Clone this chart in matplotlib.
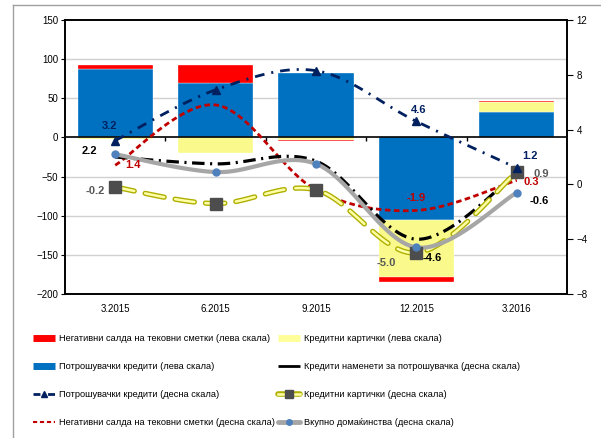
import matplotlib
matplotlib.use('Agg')

import numpy as np
import matplotlib.pyplot as plt
from matplotlib.lines import Line2D

plt.rcParams.update({'font.family': ['Liberation Sans', 'DejaVu Sans'], 'font.size': 7,
                     'lines.scale_dashes': False})

# Categories
quarters = ['3.2015', '6.2015', '9.2015', '12.2015', '3.2016']

# Bars, left scale
bar_consumer = [87, 69, 82, -106, 33]
bar_cards = [-2, -20, -3, -72, 12]
bar_overdraft = [6, 24, -2, -7, 2]

# Lines, right scale
ln_consumer = [3.2, 6.9, 8.3, 4.6, 1.2]
ln_purpose = [2.0, 1.5, 1.7, -4.0, 0.8]
ln_cards = [-0.2, -1.4, -0.4, -5.0, 0.9]
ln_overdraft = [1.4, 5.8, -0.4, -1.9, 0.3]
ln_total = [2.2, 0.9, 1.5, -4.6, -0.6]

BLUE = '#0070C0'
RED = '#FF0000'
YELLOW = '#FAFA8C'
NAVY = '#002060'
DRED = '#C00000'
OLIVE = '#AFAF00'
PALE = '#FFFFA8'
GREY = '#A6A6A6'


def smooth(x, y, n=30):
    # Catmull-Rom style smoothing similar to Excel's smoothed lines
    x = np.asarray(x, float)
    y = np.asarray(y, float)
    px = np.concatenate([[x[0]], x, [x[-1]]])
    py = np.concatenate([[y[0]], y, [y[-1]]])
    xs, ys = [], []
    t = np.linspace(0, 1, n)
    for i in range(1, len(px) - 2):
        p0 = np.array([px[i], py[i]])
        p3 = np.array([px[i + 1], py[i + 1]])
        c1 = p0 + (p3 - np.array([px[i - 1], py[i - 1]])) / 6.0
        c2 = p3 - (np.array([px[i + 2], py[i + 2]]) - p0) / 6.0
        b = ((1 - t) ** 3)[:, None] * p0 + (3 * (1 - t) ** 2 * t)[:, None] * c1 \
            + (3 * (1 - t) * t ** 2)[:, None] * c2 + (t ** 3)[:, None] * p3
        xs.extend(b[:, 0])
        ys.extend(b[:, 1])
    return np.array(xs), np.array(ys)


fig = plt.figure(figsize=(6.01, 4.38), dpi=100)
ax = fig.add_axes([65 / 601, 1 - 294 / 438, 502 / 601, 274 / 438])
ax2 = ax.twinx()

x = np.arange(len(quarters))

# Stacked bars (positive and negative stacks separately)
pos = np.zeros(len(x))
neg = np.zeros(len(x))
for vals, col in [(bar_consumer, BLUE), (bar_cards, YELLOW), (bar_overdraft, RED)]:
    vals = np.array(vals, float)
    bottoms = np.where(vals >= 0, pos, neg)
    ax.bar(x, vals, 0.75, bottom=bottoms, color=col, edgecolor='white', linewidth=0.25, zorder=2)
    pos += np.where(vals >= 0, vals, 0)
    neg += np.where(vals < 0, vals, 0)

ax.set_xlim(-0.5, len(x) - 0.5)
ax.set_ylim(-200, 150)
ax.set_yticks(range(-200, 151, 50))
for g in range(-150, 150, 50):
    if g != 0:
        ax.axhline(g, color='#D0D0D0', lw=1, zorder=0)
ax.axhline(0, color='black', lw=1.2, zorder=3)
ax.vlines(np.arange(0.5, len(x) - 1), -4, 0, color='black', lw=1, zorder=3)
ax.set_xticks(x)
ax.set_xticklabels(quarters)
ax.tick_params(axis='x', length=0, pad=7)
ax.tick_params(axis='y', length=3, direction='out', pad=2)
for s in ax.spines.values():
    s.set_color('black')
    s.set_linewidth(1.2)

ax2.set_ylim(-8, 12)
ax2.set_yticks(range(-8, 13, 4))
ax2.tick_params(axis='y', length=4, direction='out', pad=3)
for s in ax2.spines.values():
    s.set_color('black')
    s.set_linewidth(1.2)

# Lines, right scale
sx, sy = smooth(x, ln_overdraft)
ax2.plot(sx, sy, color=DRED, lw=2, ls=(0, (4, 2.5)), zorder=4)

sx, sy = smooth(x, ln_purpose)
ax2.plot(sx, sy, color='black', lw=2.3, ls=(0, (9, 4, 1.5, 4)), zorder=4)

sx, sy = smooth(x, ln_cards)
ax2.plot(sx, sy, color=OLIVE, lw=3.8, ls=(0, (14, 8)), dash_capstyle='round', zorder=4)
ax2.plot(sx, sy, color=PALE, lw=1.8, ls=(0, (14, 8)), dash_capstyle='round', zorder=4)
ax2.plot(x, ln_cards, ls='none', marker='s', ms=8, color='#4D4D4D', zorder=6)

sx, sy = smooth(x, ln_total)
ax2.plot(sx, sy, color=GREY, lw=3, zorder=5)
ax2.plot(x, ln_total, ls='none', marker='o', ms=5, color='#4F81BD', zorder=6)

sx, sy = smooth(x, ln_consumer)
ax2.plot(sx, sy, color=NAVY, lw=2, ls=(0, (7, 5, 1.5, 5)), zorder=5)
ax2.plot(x, ln_consumer, ls='none', marker='^', ms=6, color=NAVY, zorder=6)

# Data labels
labels = [
    (ln_consumer, 0, (-6, 15), NAVY), (ln_consumer, 3, (2, 11), NAVY), (ln_consumer, 4, (13, 12), NAVY),
    (ln_overdraft, 0, (18, 0), DRED), (ln_overdraft, 3, (0, 12), DRED), (ln_overdraft, 4, (14, -2), DRED),
    (ln_total, 0, (-26, 3), 'black'), (ln_total, 3, (16, -11), 'black'), (ln_total, 4, (22, -8), 'black'),
    (ln_cards, 0, (-20, -4), '#595959'), (ln_cards, 3, (-30, -10), '#595959'), (ln_cards, 4, (24, -2), '#595959'),
]
for series, i, off, col in labels:
    ax2.annotate('%.1f' % series[i], (x[i], series[i]), xytext=off, textcoords='offset pixels',
                 ha='center', va='center', fontsize=8, fontweight='bold', color=col, zorder=7)

# Legend, two columns placed separately
handles_l = [
    Line2D([], [], color=RED, lw=5, solid_capstyle='butt'),
    Line2D([], [], color=BLUE, lw=5, solid_capstyle='butt'),
    Line2D([], [], color=NAVY, lw=2, ls=(0, (5, 2, 1.5, 2)), marker='^', ms=4),
    Line2D([], [], color=DRED, lw=1.5, ls=(0, (3, 2))),
]
names_l = [
    'Негативни салда на тековни сметки (лева скала)',
    'Потрошувачки кредити (лева скала)',
    'Потрошувачки кредити (десна скала)',
    'Негативни салда на тековни сметки (десна скала)',
]
handles_r = [
    Line2D([], [], color='#FFFF99', lw=5, solid_capstyle='butt'),
    Line2D([], [], color='black', lw=2, solid_capstyle='butt'),
    (Line2D([], [], color=OLIVE, lw=4, solid_capstyle='round'), Line2D([], [], color=PALE, lw=1.8),
     Line2D([], [], ls='none', marker='s', ms=6, color='#4D4D4D')),
    (Line2D([], [], color=GREY, lw=3.5, solid_capstyle='round'),
     Line2D([], [], ls='none', marker='o', ms=4, color='#4F81BD')),
]
names_r = [
    'Кредитни картички (лева скала)',
    'Кредити наменети за потрошувачка (десна скала)',
    'Кредитни картички (десна скала)',
    'Вкупно домаќинства (десна скала)',
]
for hs, ns, x0 in [(handles_l, names_l, 33), (handles_r, names_r, 278)]:
    fig.legend(hs, ns, loc='upper left', bbox_to_anchor=(x0 / 601, 1 - 334 / 438),
               frameon=False, fontsize=6.7, handlelength=2.4, handletextpad=0.35,
               labelspacing=2.05, borderaxespad=0, borderpad=0)

# Outer chart frame
fig.add_artist(Line2D([13 / 601, 13 / 601], [0, 1 - 5 / 438], color='#A0A0A0', lw=1))
fig.add_artist(Line2D([13 / 601, 1], [1 - 5 / 438, 1 - 5 / 438], color='#A0A0A0', lw=1))

fig.savefig('out.png', dpi=100)
